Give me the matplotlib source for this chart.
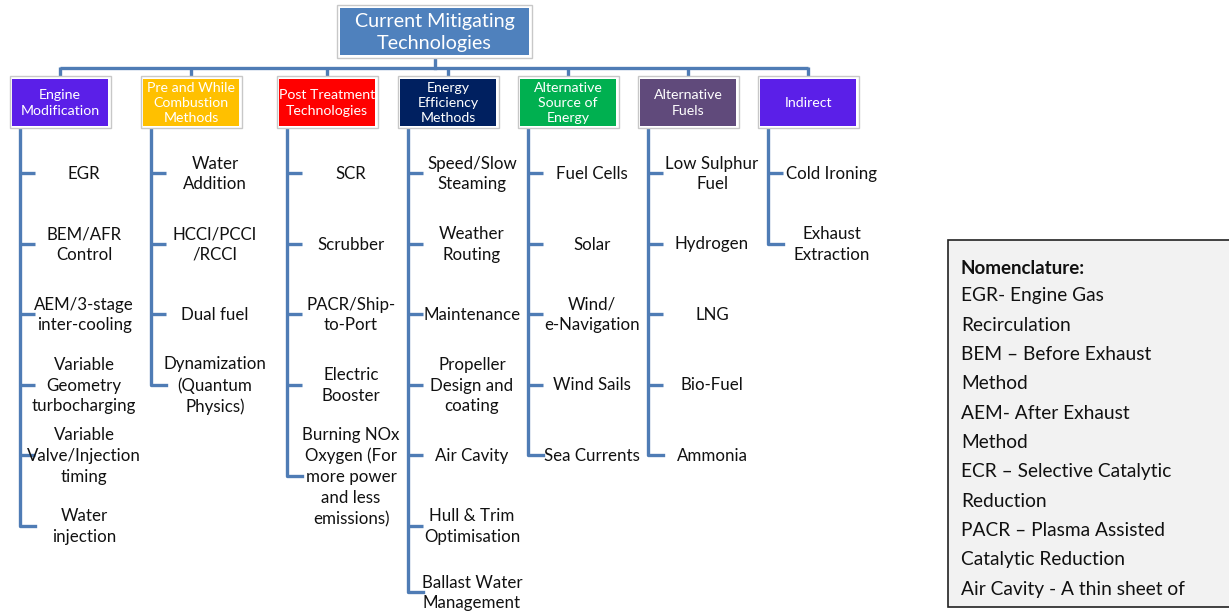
import matplotlib
matplotlib.use("Agg")
import matplotlib.pyplot as plt
from matplotlib.patches import Rectangle

root_label = "Current Mitigating\nTechnologies"
categories = ["Engine\nModification", "Pre and While\nCombustion\nMethods", "Post Treatment\nTechnologies",
              "Energy\nEfficiency\nMethods", "Alternative\nSource of\nEnergy", "Alternative\nFuels", "Indirect"]
cat_colors = ["#5B1FE8", "#FFC000", "#FF0000", "#002060", "#00B050", "#604A7B", "#5B1FE8"]
items = [
    ["EGR", "BEM/AFR\nControl", "AEM/3-stage\ninter-cooling", "Variable\nGeometry\nturbocharging",
     "Variable\nValve/Injection\ntiming", "Water\ninjection"],
    ["Water\nAddition", "HCCI/PCCI\n/RCCI", "Dual fuel", "Dynamization\n(Quantum\nPhysics)"],
    ["SCR", "Scrubber", "PACR/Ship-\nto-Port", "Electric\nBooster",
     "Burning NOx\nOxygen (For\nmore power\nand less\nemissions)"],
    ["Speed/Slow\nSteaming", "Weather\nRouting", "Maintenance", "Propeller\nDesign and\ncoating",
     "Air Cavity", "Hull & Trim\nOptimisation", "Ballast Water\nManagement"],
    ["Fuel Cells", "Solar", "Wind/\ne-Navigation", "Wind Sails", "Sea Currents"],
    ["Low Sulphur\nFuel", "Hydrogen", "LNG", "Bio-Fuel", "Ammonia"],
    ["Cold Ironing", "Exhaust\nExtraction"],
]
nomenclature = ["EGR- Engine Gas", "Recirculation", "BEM \u2013 Before Exhaust", "Method",
                "AEM- After Exhaust", "Method", "ECR \u2013 Selective Catalytic", "Reduction",
                "PACR \u2013 Plasma Assisted", "Catalytic Reduction", "Air Cavity - A thin sheet of"]

W, H = 1229, 612
fig = plt.figure(figsize=(W / 100, H / 100), dpi=100)
ax = fig.add_axes([0, 0, 1, 1])
ax.set_xlim(0, W)
ax.set_ylim(H, 0)
ax.axis("off")

LINE = "#4F7CB5"
FONT = "Lato"
lw = 2.4

# root box
rx0, rx1, ry0, ry1 = 337, 532, 5, 58
ax.add_patch(Rectangle((rx0, ry0), rx1 - rx0, ry1 - ry0, facecolor="white", edgecolor="#C8C8C8", lw=1, zorder=3))
ax.add_patch(Rectangle((rx0 + 3, ry0 + 3), rx1 - rx0 - 6, ry1 - ry0 - 6, facecolor="#4F81BD", edgecolor="none", zorder=4))
ax.text((rx0 + rx1) / 2, (ry0 + ry1) / 2 + 1, root_label, ha="center", va="center", color="white",
        fontsize=14.2, family=FONT, linespacing=1.36, zorder=5)

# category boxes
cx_centers = [60, 191, 327, 448, 568, 688, 808]
bw, by0, by1 = 101, 76, 128
bar_y = 68
ax.plot([434.5, 434.5], [ry1, bar_y], color=LINE, lw=lw, zorder=2)
ax.plot([cx_centers[0], cx_centers[-1]], [bar_y, bar_y], color=LINE, lw=lw, zorder=2,
        solid_capstyle="butt")
row_y0, row_dy = 173, 70.5
for i, (cat, col, its) in enumerate(zip(categories, cat_colors, items)):
    cx = cx_centers[i]
    ax.plot([cx, cx], [bar_y - 1.2, by0], color=LINE, lw=lw, zorder=2, solid_capstyle="butt")
    x0 = cx - bw / 2
    ax.add_patch(Rectangle((x0, by0), bw, by1 - by0, facecolor="white", edgecolor="#C8C8C8", lw=1, zorder=3))
    ax.add_patch(Rectangle((x0 + 2.5, by0 + 2.5), bw - 5, by1 - by0 - 5, facecolor=col, edgecolor="none", zorder=4))
    ax.text(cx, (by0 + by1) / 2 + 1, cat, ha="center", va="center", color="white", fontsize=10.2,
            family=FONT, linespacing=1.33, zorder=5)
    vx = x0 + 10.5
    ys = [row_y0 + k * row_dy for k in range(len(its))]
    if i == 2:
        ys[-1] = 476
    if i == 3:
        ys[-1] = 592
    ax.plot([vx, vx, vx + 15], [by1, ys[-1], ys[-1]], color=LINE, lw=lw, zorder=2, solid_joinstyle="round")
    for k, (t, y) in enumerate(zip(its, ys)):
        if k < len(its) - 1:
            ax.plot([vx, vx + 15], [y, y], color=LINE, lw=lw, zorder=2, solid_capstyle="butt")
        ax.text(vx + 64, y + 1, t, ha="center", va="center", color="#111111", fontsize=12.2,
                family=FONT, linespacing=1.37, zorder=5)

# nomenclature box
ax.add_patch(Rectangle((948, 240), 300, 367, facecolor="#F2F2F2", edgecolor="#222222", lw=1.2, zorder=3))
ax.text(961, 268, "Nomenclature:", ha="left", va="center", fontsize=13.5, fontweight="bold",
        family=FONT, color="#111111", zorder=5)
for k, t in enumerate(nomenclature):
    ax.text(961, 296 + k * 29.3, t, ha="left", va="center", fontsize=13.8, family=FONT,
            color="#111111", zorder=5)

fig.savefig("out.png", dpi=100)
